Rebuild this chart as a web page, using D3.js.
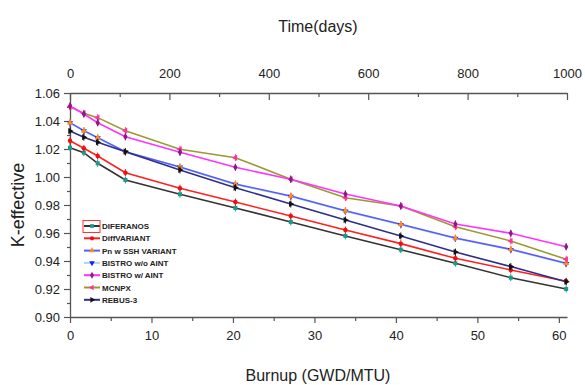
<!DOCTYPE html>
<html>
<head>
<meta charset="utf-8">
<script src="https://cdn.jsdelivr.net/npm/d3@7"></script>
<style>
  body { margin: 0; background: #fff; }
  svg text { font-family: "Liberation Sans Narrow", "Liberation Sans", Arial, sans-serif; fill: #222; }
</style>
</head>
<body>
<div id="chart"></div>
<script>
// burnup points (GWD/MTU)
const burnup = [0, 1.7, 3.4, 6.8, 13.5, 20.3, 27.1, 33.8, 40.6, 47.3, 54.1, 60.9];

// k-effective per code
const dif3dEranos  = [1.0209, 1.0174, 1.0098, 0.9979, 0.9877, 0.9779, 0.9679, 0.9579, 0.9481, 0.9384, 0.9281, 0.9200];
const diffVariant  = [1.0259, 1.0205, 1.0150, 1.0031, 0.9920, 0.9821, 0.9721, 0.9621, 0.9524, 0.9419, 0.9336, 0.9255];
const pnSshVariant = [1.0388, 1.0331, 1.0281, 1.0181, 1.0072, 0.9950, 0.9864, 0.9759, 0.9662, 0.9564, 0.9484, 0.9384];
const bistroWo     = [1.0385, 1.0328, 1.0278, 1.0179, 1.0069, 0.9947, 0.9861, 0.9756, 0.9659, 0.9561, 0.9481, 0.9381];
const bistroW      = [1.0507, 1.0450, 1.0388, 1.0288, 1.0177, 1.0069, 0.9984, 0.9879, 0.9793, 0.9664, 0.9598, 0.9502];
const mcnpx        = [1.0502, 1.0455, 1.0424, 1.0331, 1.0198, 1.0138, 0.9984, 0.9852, 0.9793, 0.9645, 0.9543, 0.9412];
const rebus3       = [1.0329, 1.0284, 1.0248, 1.0181, 1.0050, 0.9924, 0.9807, 0.9693, 0.9579, 0.9464, 0.9360, 0.9252];

const yTicks = [0.90, 0.92, 0.94, 0.96, 0.98, 1.00, 1.02, 1.04, 1.06];
const xTicks = [0, 10, 20, 30, 40, 50, 60];
const timeTicks = [0, 200, 400, 600, 800, 1000];

const series = [
    { name: "DIFERANOS",        values: dif3dEranos,  line: "#333333", mark: "#1a9a8a", sym: d3.symbolSquare },
    { name: "DiffVARIANT",      values: diffVariant,  line: "#ff2020", mark: "#ee1010", sym: d3.symbolCircle },
    { name: "BISTRO w/o AINT",  values: bistroWo,     line: "#a8d8f0", mark: "#1a1aff", sym: d3.symbolTriangle, flip: true },
    { name: "Pn w SSH VARIANT", values: pnSshVariant, line: "#5a5aff", mark: "#ff8c1a", sym: d3.symbolTriangle },
    { name: "REBUS-3",          values: rebus3,       line: "#2e2e8a", mark: "#111111", sym: d3.symbolTriangle, rot: 90 },
    { name: "MCNPX",            values: mcnpx,        line: "#9a9a30", mark: "#ff3399", sym: d3.symbolTriangle, rot: -90 },
    { name: "BISTRO w/ AINT",   values: bistroW,      line: "#ff33ff", mark: "#8a1a8a", sym: d3.symbolDiamond }
];
const legendOrder = ["DIFERANOS", "DiffVARIANT", "Pn w SSH VARIANT", "BISTRO w/o AINT", "BISTRO w/ AINT", "MCNPX", "REBUS-3"];

const W = 585, H = 385;
const plotL = 70, plotR = 567, plotT = 93, plotB = 317;

const svg = d3.select("#chart").append("svg")
    .attr("width", W).attr("height", H);

const x = d3.scaleLinear().domain([0, 61]).range([plotL, plotR]);
const xTime = d3.scaleLinear().domain([0, 1000]).range([plotL, plotR]);
const y = d3.scaleLinear().domain([0.90, 1.06]).range([plotB, plotT]);

// axes
const axisColor = "#555";
const styleAxis = (g) => {
    g.selectAll("path").attr("stroke", axisColor).attr("stroke-width", 1.3);
    g.selectAll("line").attr("stroke", axisColor).attr("stroke-width", 1.2);
    g.selectAll("text").attr("font-size", 13).attr("fill", "#222");
};

svg.append("g")
    .attr("transform", `translate(0,${plotB})`)
    .call(d3.axisBottom(x).tickValues(d3.range(0, 61, 5)).tickSize(6).tickSizeOuter(0)
        .tickFormat(d => xTicks.includes(d) ? d : ""))
    .call(styleAxis)
    .call(g => g.selectAll(".tick").filter(d => d % 10 !== 0).select("line").attr("y2", 4))
    .call(g => g.selectAll("text").attr("dy", "1.05em"));

svg.append("g")
    .attr("transform", `translate(0,${plotT})`)
    .call(d3.axisTop(xTime).tickValues(d3.range(0, 1001, 100)).tickSize(0).tickSizeOuter(0)
        .tickFormat(d => timeTicks.includes(d) ? d : ""))
    .call(styleAxis)
    .call(g => g.selectAll(".tick line").attr("y2", d => d % 200 === 0 ? 7 : 4))
    .call(g => g.selectAll("text").attr("dy", "-0.95em"));

svg.append("g")
    .attr("transform", `translate(${plotL},0)`)
    .call(d3.axisLeft(y).tickValues(d3.range(0, 17).map(i => 0.90 + i * 0.01)).tickSize(6).tickSizeOuter(0)
        .tickFormat(d => yTicks.some(t => Math.abs(t - d) < 1e-6) ? d3.format(".2f")(d) : ""))
    .call(styleAxis)
    .call(g => g.selectAll(".tick").filter(d => Math.round(d * 100) % 2 !== 0).select("line").attr("x2", -3))
    .call(g => g.selectAll("text").attr("x", -10));

// lines
const line = d3.line().x(d => x(d[0])).y(d => y(d[1]));

series.forEach(s => {
    const pts = burnup.map((b, i) => [b, s.values[i]]);
    svg.append("path")
        .datum(pts)
        .attr("fill", "none")
        .attr("stroke", s.line)
        .attr("stroke-width", 1.6)
        .attr("d", line);
});

// markers
series.forEach(s => {
    const pts = burnup.map((b, i) => [b, s.values[i]]);
    const g = svg.append("g");
    g.selectAll("line.err")
        .data(pts)
        .enter().append("line")
        .attr("x1", d => x(d[0])).attr("x2", d => x(d[0]))
        .attr("y1", d => y(d[1]) - 3.5).attr("y2", d => y(d[1]) + 3.5)
        .attr("stroke", s.mark).attr("stroke-width", 1);
    g.selectAll("path.mk")
        .data(pts)
        .enter().append("path")
        .attr("d", d3.symbol().type(s.sym).size(16))
        .attr("transform", d => `translate(${x(d[0])},${y(d[1])}) rotate(${s.flip ? 180 : (s.rot || 0)})`)
        .attr("fill", s.mark);
});

// legend
const legend = svg.append("g");
legendOrder.forEach((name, i) => {
    const s = series.find(d => d.name === name);
    const ly = 226 + i * 12.3;
    legend.append("line")
        .attr("x1", 84).attr("x2", 100).attr("y1", ly).attr("y2", ly)
        .attr("stroke", s.line).attr("stroke-width", 2);
    legend.append("path")
        .attr("d", d3.symbol().type(s.sym).size(14))
        .attr("transform", `translate(92,${ly}) rotate(${s.flip ? 180 : (s.rot || 0)})`)
        .attr("fill", s.mark);
    legend.append("text")
        .attr("x", 102).attr("y", ly + 3)
        .attr("font-size", 8)
        .attr("font-weight", "bold")
        .attr("fill", "#444")
        .text(name);
});
legend.append("rect")
    .attr("x", 83).attr("y", 220.5).attr("width", 17).attr("height", 12)
    .attr("fill", "none").attr("stroke", "#ff3333").attr("stroke-width", 1);

// titles
svg.append("text")
    .attr("x", 318).attr("y", 32)
    .attr("text-anchor", "middle")
    .attr("font-size", 16)
    .text("Time(days)");

svg.append("text")
    .attr("x", 318).attr("y", 381)
    .attr("text-anchor", "middle")
    .attr("font-size", 16)
    .text("Burnup (GWD/MTU)");

svg.append("text")
    .attr("transform", "translate(24,205) rotate(-90)")
    .attr("text-anchor", "middle")
    .attr("font-size", 18)
    .text("K-effective");
</script>
</body>
</html>
